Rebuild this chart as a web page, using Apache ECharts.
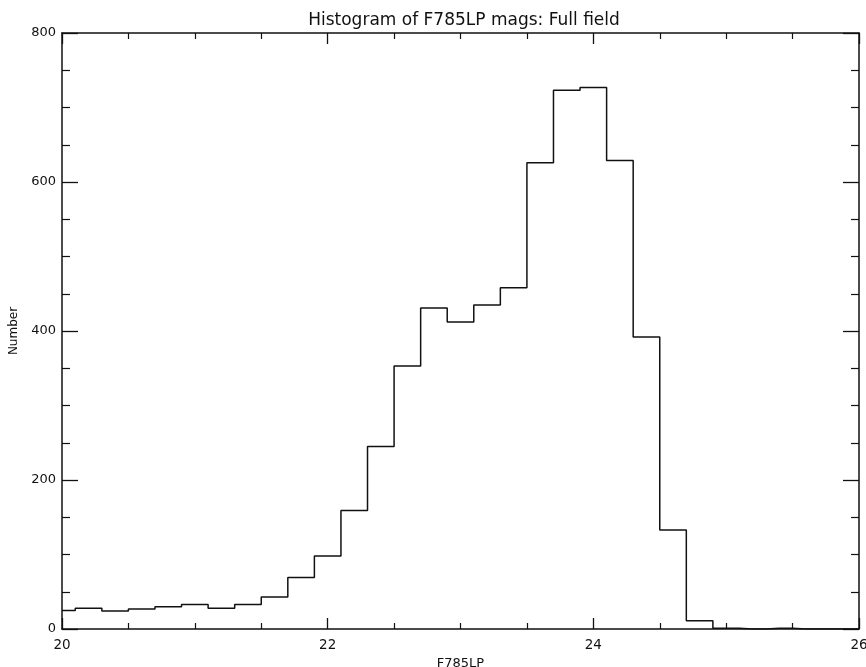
<!DOCTYPE html>
<html>
<head>
<meta charset="utf-8">
<title>Histogram of F785LP mags</title>
<script src="https://cdn.jsdelivr.net/npm/echarts@6/dist/echarts.min.js"></script>
<style>
  html, body { margin: 0; padding: 0; background: #fff; }
  #chart { width: 866px; height: 667px; }
</style>
</head>
<body>
<div id="chart"></div>
<script>
// Bin centres (mag), 0.2 mag wide
const binCenters = [
  20.0, 20.2, 20.4, 20.6, 20.8, 21.0, 21.2, 21.4, 21.6, 21.8,
  22.0, 22.2, 22.4, 22.6, 22.8, 23.0, 23.2, 23.4, 23.6, 23.8,
  24.0, 24.2, 24.4, 24.6, 24.8, 25.0, 25.2, 25.4, 25.6, 25.8, 26.0
];
// Counts per bin
const counts = [
  25, 28, 24, 27, 30, 33, 28, 33, 43, 69,
  98, 159, 245, 353, 431, 412, 435, 458, 626, 723,
  727, 629, 392, 133, 11, 1, 0, 1, 0, 0, 0
];
const xTicks = [20, 22, 24, 26];
const yTicks = [0, 200, 400, 600, 800];

const FONT = '"DejaVu Sans", "Liberation Sans", sans-serif';
const INK = '#111';

const chart = echarts.init(document.getElementById('chart'), null, { renderer: 'canvas' });

const axisLine = { show: true, onZero: false, lineStyle: { color: INK, width: 1.5 } };

function xAxisCfg(pos, showLabels) {
  return {
    type: 'value',
    position: pos,
    min: xTicks[0],
    max: xTicks[xTicks.length - 1],
    interval: xTicks[1] - xTicks[0],
    axisLine: axisLine,
    axisTick: { show: true, inside: true, length: 11, lineStyle: { color: INK, width: 1.3 } },
    minorTick: { show: true, splitNumber: 4, length: 6, lineStyle: { color: INK, width: 1.2 } },
    splitLine: { show: false },
    axisLabel: {
      show: showLabels, margin: 9, color: INK, fontFamily: FONT, fontSize: 13.5,
      formatter: v => String(v)
    },
    name: showLabels ? 'F785LP' : '',
    nameLocation: 'middle',
    nameGap: 26,
    nameTextStyle: { color: INK, fontFamily: FONT, fontSize: 13 }
  };
}

function yAxisCfg(pos, showLabels) {
  return {
    type: 'value',
    position: pos,
    min: yTicks[0],
    max: yTicks[yTicks.length - 1],
    interval: yTicks[1] - yTicks[0],
    axisLine: axisLine,
    axisTick: { show: true, inside: true, length: 16, lineStyle: { color: INK, width: 1.3 } },
    minorTick: { show: true, splitNumber: 4, length: 8, lineStyle: { color: INK, width: 1.2 } },
    splitLine: { show: false },
    axisLabel: { show: showLabels, margin: 6, color: INK, fontFamily: FONT, fontSize: 13 },
    name: showLabels ? 'Number' : '',
    nameLocation: 'middle',
    nameGap: 42,
    nameTextStyle: { color: INK, fontFamily: FONT, fontSize: 12 }
  };
}

chart.setOption({
  backgroundColor: '#fff',
  animation: false,
  title: {
    text: 'Histogram of F785LP mags: Full field',
    left: 459,
    textAlign: 'center',
    top: 7,
    textStyle: { color: INK, fontFamily: FONT, fontSize: 17, fontWeight: 'normal' }
  },
  grid: {
    left: 62, right: 7, top: 33, bottom: 38,
    containLabel: false,
    outerBoundsMode: 'none'
  },
  xAxis: [xAxisCfg('bottom', true), xAxisCfg('top', false)],
  yAxis: [yAxisCfg('left', true), yAxisCfg('right', false)],
  series: [{
    type: 'line',
    step: 'middle',
    xAxisIndex: 0,
    yAxisIndex: 0,
    data: binCenters.map((x, i) => [x, counts[i]]),
    showSymbol: false,
    symbol: 'none',
    clip: true,
    lineStyle: { color: INK, width: 1.5 }
  }]
});
</script>
</body>
</html>
